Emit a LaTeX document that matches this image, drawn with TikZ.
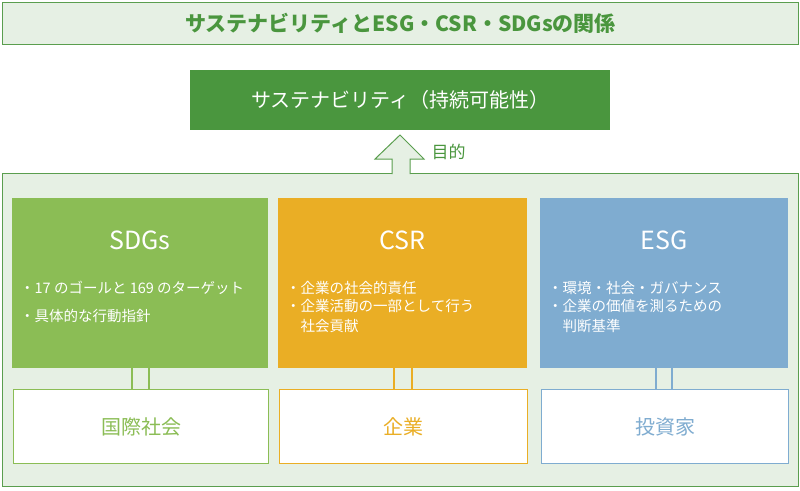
\documentclass[tikz,border=0pt]{standalone}
\usepackage{fontspec}
\setmainfont{Noto Sans CJK JP}
\definecolor{frameGreen}{HTML}{5A9E4E}
\definecolor{paleGreen}{HTML}{E6F0E4}
\definecolor{darkGreen}{HTML}{4A963E}
\definecolor{sdgsCol}{HTML}{8BBD55}
\definecolor{csrCol}{HTML}{EAAE25}
\definecolor{esgCol}{HTML}{7FACD0}
\tikzset{
  colbox/.style={draw=none, minimum width=#1, minimum height=170pt, anchor=north west},
  actorbox/.style={draw=#1, line width=1.5pt, fill=white, text=#1, font=\fontsize{20}{20}\selectfont, minimum height=74pt, anchor=north west},
  headtxt/.style={text=white, font=\fontsize{25}{25}\selectfont},
  itemtxt/.style={text=white, font=\fontsize{14.5}{20}\selectfont, align=left, anchor=west, inner sep=0pt}
}
\begin{document}
\begin{tikzpicture}[x=1pt,y=-1pt]
\useasboundingbox (0,0) rectangle (800,490);
% title
\node[draw=frameGreen, fill=paleGreen, line width=1pt, minimum width=796pt, minimum height=42pt, anchor=north west,
  text=darkGreen, font=\bfseries\fontsize{21}{21}\selectfont] (title) at (2,2) {サステナビリティとESG・CSR・SDGsの関係};
\node[fill=darkGreen, minimum width=420pt, minimum height=60pt, anchor=north west, text=white,
  font=\fontsize{20}{20}\selectfont] (goal) at (190,70) {サステナビリティ（持続可能性）};
% panel
\node[draw=frameGreen, fill=paleGreen, line width=1pt, minimum width=796pt, minimum height=313pt, anchor=north west] (panel) at (2,173) {};
% arrow
\draw[frameGreen, line width=1pt, fill=paleGreen]
  (392,174) -- (392,159) -- (375,159) -- (400,135) -- (424,159) -- (410,159) -- (410,174);
\node[text=darkGreen, font=\fontsize{17}{17}\selectfont, anchor=west] (aim) at (428,152) {目的};
% columns
\node[colbox=256pt, fill=sdgsCol] (sdgs) at (12,198) {};
\node[colbox=249pt, fill=csrCol] (csr) at (278,198) {};
\node[colbox=248pt, fill=esgCol] (esg) at (540,198) {};
\node[headtxt] at (140,240) {SDGs};
\node[headtxt] at (402.5,240) {CSR};
\node[headtxt] at (664,240) {ESG};
\node[itemtxt] at (20,288) {・17 のゴールと 169 のターゲット};
\node[itemtxt] at (20,316) {・具体的な行動指針};
\node[itemtxt] at (286,288) {・企業の社会的責任};
\node[itemtxt] at (286,316) {・企業活動の一部として行う\\\phantom{・}社会貢献};
\node[itemtxt] at (548,288) {・環境・社会・ガバナンス};
\node[itemtxt] at (548,316) {・企業の価値を測るための\\\phantom{・}判断基準};
% actors
\node[actorbox=sdgsCol, minimum width=255pt] (world) at (12.75,388.75) {国際社会};
\node[actorbox=csrCol, minimum width=248pt] (firm) at (278.75,388.75) {企業};
\node[actorbox=esgCol, minimum width=247pt] (investor) at (540.75,388.75) {投資家};
% connectors
\foreach \a/\b/\c/\u/\v in {sdgs/world/sdgsCol/132/149, csr/firm/csrCol/394/412, esg/investor/esgCol/656/672}{
  \draw[draw=\c, line width=1.5pt] (\a.south -| \u,0) -- (\b.north -| \u,0) (\a.south -| \v,0) -- (\b.north -| \v,0);
}
\end{tikzpicture}
\end{document}
